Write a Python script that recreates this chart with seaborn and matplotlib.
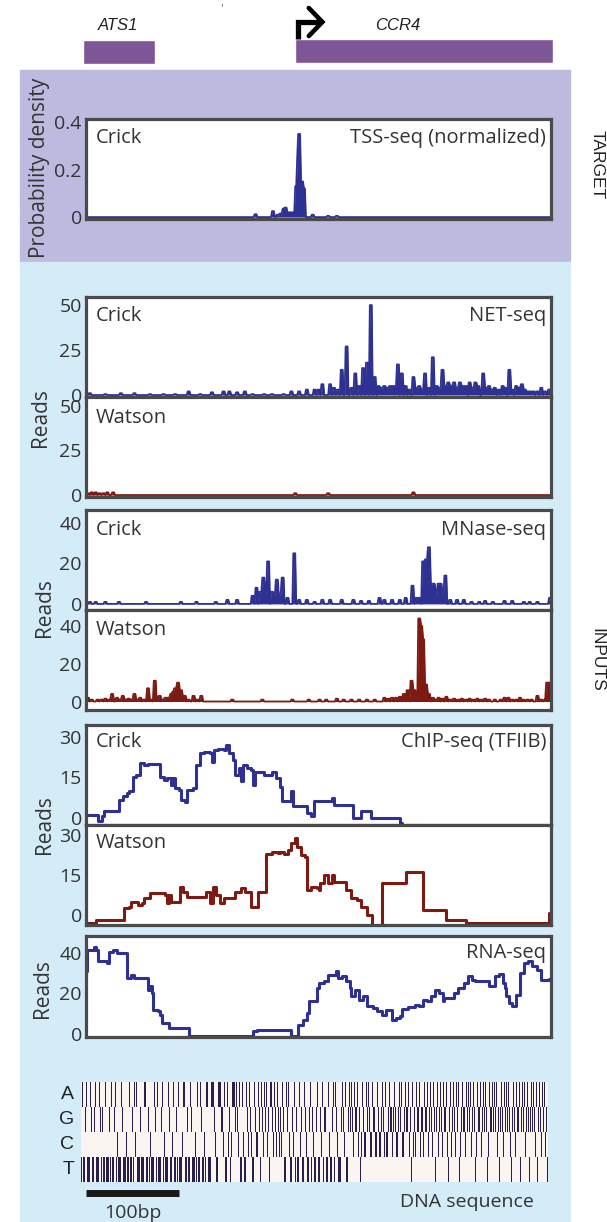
import numpy as np
import pandas as pd
import matplotlib
matplotlib.use("Agg")
import matplotlib.pyplot as plt
from matplotlib.colors import ListedColormap
from matplotlib.patches import Rectangle
import seaborn as sns

# ---------------- data (x positions in bp along a 480 bp window) ----------------
N_BP = 480

gene_names = ["ATS1", "CCR4"]
gene_start = [-3, 216]
gene_end = [71, 482]
gene_label_x = [33, 322]

tss_pos = [175, 193, 198, 201, 204, 206, 209, 212, 214, 217, 219, 220, 223, 225, 234, 250, 259]
tss_val = [0.012, 0.025, 0.01, 0.015, 0.035, 0.04, 0.02, 0.02, 0.02, 0.13, 0.25, 0.35, 0.15, 0.12, 0.01, 0.005, 0.005]

net_crick_pos = [4, 20, 36, 50, 66, 80, 92, 106, 118, 130, 142, 148, 156, 164, 172, 184, 192, 204,
                 212, 220, 228, 236, 240, 244, 252, 256, 260, 264, 269, 274, 278, 282, 286, 290,
                 294, 298, 302, 305, 308, 311, 314, 317, 320, 322, 326, 330, 334, 338, 341, 344,
                 347, 350, 354, 358, 362, 365, 368, 371, 374, 377, 380, 383, 386, 389, 392, 396,
                 399, 402, 405, 410, 413, 416, 419, 422, 426, 430, 433, 437, 440, 444, 447, 450,
                 453, 456, 459, 462, 466, 470, 474, 478]
net_crick_val = [1, 0.5, 1, 1, 0.5, 0.5, 0.5, 2, 0.5, 1.5, 2, 2, 1.5, 2, 0.5, 0.5, 0.5, 0.5,
                 2, 2, 3, 3, 3, 6, 6, 4, 3, 14, 27, 4, 12, 5, 15, 18,
                 50, 10, 5, 4, 5, 4, 5, 5, 5, 17, 12, 5, 3, 10, 4, 5,
                 3, 12, 4, 21, 5, 4, 14, 5, 7, 5, 7, 4, 7, 5, 5, 7,
                 4, 7, 5, 12, 4, 5, 3, 4, 3, 5, 4, 14, 3, 5, 4, 6,
                 3, 2, 2, 2, 2, 4, 2, 3]

net_watson_pos = [2, 6, 10, 14, 18, 22, 28, 216, 250, 338]
net_watson_val = [1, 1.5, 1.5, 1, 1, 1.5, 1.5, 1, 1, 1.5]

mnase_crick_pos = [4, 10, 20, 34, 62, 98, 114, 134, 146, 156, 172, 176, 180, 183, 186, 188, 192,
                   195, 197, 200, 203, 208, 215, 220, 228, 236, 244, 252, 264, 276, 284, 292,
                   303, 308, 316, 324, 330, 337, 341, 344, 348, 351, 354, 356, 359, 362, 364,
                   366, 369, 371, 376, 383, 390, 398, 406, 412, 420, 432, 440, 452, 458, 466, 479]
mnase_crick_val = [1, 1, 1, 1, 1, 1, 1, 1, 2, 2, 4, 8, 6, 13, 6, 21, 6,
                   5, 12, 5, 13, 3, 25, 2, 2, 1, 2, 2, 2, 2, 1.5, 1.5,
                   3, 2, 2, 2, 3, 9, 3, 3, 21, 22, 28, 10, 10, 5, 10,
                   10, 5, 14, 2, 2, 2, 1, 1, 1.5, 1, 1.5, 1.5, 1, 1, 1, 3]

mnase_watson_pos = [2, 6, 12, 16, 20, 24, 27, 32, 35, 38, 41, 44, 47, 50, 53, 56, 60, 64, 67,
                    71, 74, 76, 79, 82, 85, 88, 90, 92, 95, 98, 100, 102, 106, 111, 115, 119,
                    151, 182, 213, 230, 241, 248, 259, 266, 274, 282, 290, 298, 308, 312, 316,
                    320, 324, 328, 332, 336, 339, 341, 344, 346, 348, 351, 354, 358, 361, 364,
                    368, 372, 376, 380, 384, 388, 392, 396, 400, 404, 408, 412, 416, 422, 428,
                    432, 436, 440, 444, 448, 452, 456, 460, 466, 470, 474, 476, 478]
mnase_watson_val = [2, 1, 1, 1, 1.5, 1, 4, 2, 1, 3, 1, 1.5, 1, 4, 1, 2, 1, 7, 1,
                    11, 1, 3, 1, 2, 2, 4, 5, 7, 10, 6, 3, 3, 1, 3, 1, 3,
                    1, 1, 1, 1, 1, 1, 1.5, 1, 1, 1, 1, 1, 2, 1.5, 2,
                    2, 2.5, 4, 6, 11, 6, 3, 44, 40, 33, 9, 4, 2, 1, 2,
                    1.5, 2.5, 1, 1.5, 1, 1.5, 1, 1.5, 1, 1.5, 1, 1.5, 1, 1, 1,
                    2, 2, 1, 1, 2, 1, 1, 1, 3, 1, 1, 10, 10]

chip_crick_pos = [0, 12, 16, 19, 34, 38, 42, 44, 48, 52, 56, 60, 64, 76, 80, 84, 88, 90, 92, 96,
                  98, 102, 104, 110, 114, 118, 122, 128, 130, 132, 136, 142, 144, 148, 152, 154,
                  158, 160, 162, 166, 170, 172, 174, 184, 192, 196, 200, 202, 212, 214, 228, 232,
                  235, 254, 256, 276, 284, 294, 324, 326]
chip_crick_val = [1.2, -1.2, 0.6, 2.4, 6.7, 8, 9.2, 9.8, 15.3, 16, 20.4, 19.6, 20, 15.3, 14, 14.7,
                  12.2, 14.7, 11, 10.4, 6.7, 6, 10.4, 11, 19.6, 23.9, 24.5, 23.9, 20.8, 25.3, 25.7,
                  25.3, 26.9, 23.9, 21.4, 15.9, 18.4, 13.5, 19.6, 18.4, 17.7, 12.2, 17.1, 15.9,
                  17.1, 14.7, 11.6, 6.1, 9.8, 4.3, 1.8, 0.6, 6.1, 7.3, 4.9, 0, 2.4, 0, -2, -2]

chip_watson_pos = [0, 10, 39, 44, 46, 54, 58, 60, 66, 82, 84, 86, 88, 97, 100, 104, 124, 128, 131,
                   134, 138, 142, 154, 160, 164, 170, 178, 186, 192, 198, 200, 204, 208, 212, 216,
                   218, 222, 226, 228, 232, 238, 240, 242, 246, 250, 254, 256, 268, 274, 280, 284,
                   290, 295, 306, 330, 348, 372, 392, 478, 480]
chip_watson_val = [-3, -2, 2.5, 2.9, 5, 3.75, 4.6, 6.25, 8.4, 7.5, 4.4, 7.5, 5, 10.6, 8.75, 6.9,
                   8.75, 4.4, 10.6, 7.5, 4.4, 6.25, 8.75, 10, 8.75, 3.1, 8.75, 23, 23.75, 23.1,
                   23.75, 22.9, 24.4, 26.9, 28.75, 25.6, 22.5, 21.9, 9.4, 10.6, 10, 9.4, 11.9, 15,
                   11.9, 15, 12.5, 9.4, 6.25, 5.6, 3.1, 0, -3.75, 11.9, 16.25, 1.9, -1.9, -3, 0.6, 0.6]

rna_pos = [0, 1, 8, 10, 12, 22, 24, 28, 32, 42, 46, 50, 64, 66, 68, 69, 74, 76, 78, 86, 106, 172,
           176, 212, 219, 224, 228, 230, 238, 240, 246, 250, 258, 260, 264, 268, 272, 274, 278,
           282, 286, 290, 296, 300, 306, 310, 316, 320, 324, 326, 332, 340, 344, 348, 352, 356,
           360, 364, 368, 370, 380, 384, 390, 394, 398, 402, 416, 422, 426, 430, 432, 434, 437,
           440, 444, 448, 452, 456, 460, 466, 470, 474, 478, 480]
rna_val = [30.9, 41.6, 42.9, 41.6, 35.9, 35.1, 40.3, 41.6, 40, 27.6, 29.3, 27.6, 21.9, 23.5, 20.2,
           12, 11.2, 9.5, 5.4, 3, -0.8, 1.3, 1.8, -0.8, 4.6, 7, 10.4, 16.1, 22.7, 25.2, 26, 29.3,
           30.9, 27.6, 28.5, 26, 22.7, 18.6, 21.7, 16.9, 18.6, 13.7, 12.8, 11.2, 9.5, 12, 7, 7.9,
           8.7, 12.3, 13.3, 14.5, 13.7, 16.9, 16.1, 18.6, 21.9, 20.2, 16.1, 17.8, 20.2, 22.7, 25.2,
           28.5, 26.8, 26, 23.5, 28.5, 29.8, 25.2, 22.7, 18.6, 15.3, 14, 19.4, 30.1, 35, 35.9,
           33.4, 31.7, 26.8, 26.5, 27.1, 27.1]

dna_seq = ("TATTGATTTAGTTGATTTTAGTGTTATTTGTATTGATCTT"
           "TAGTTTCTTATTGTATCATTTGTTTAATTGTCTTTAGTAT"
           "TTGATCTTTAGTTTCATTGTATTTCAATTGTTAGTTTCTA"
           "TTAGTTCTAGATTTAAAGCTTAAAGGCATTACGTCAAAGA"
           "GCATTAGCTTAGCAGCTTAGCCAGTAGCAGACGTAAGCAG"
           "CAGACGCAGTTAGACTTGCATGTTACGTTAGCTTGATGCA"
           "TTGATTGCATGGTTACTTGATAGCTTTGAGCATTGACGAG"
           "CAGGACGTCAGCCAGAGCCAGGCCAGCCGAGCAGCCGAGG"
           "CGAGCCGAGACCGAGGACGTACGCAGGACGAGCAGGACGA"
           "GCAGTGACGAGCAGGACTGACGAGCAGGATCGAGGCAGAG"
           "ACGAGTCAGGACGAGAGTCAGGAGCAGACGTGAGCAGAGA"
           "GCTGAGCAGGATGAGACGAGTCGAGAGCATGAGCAGACGT")
bases = ["A", "G", "C", "T"]

# ---------------- style ----------------
CRICK = "#2e3192"
WATSON = "#7d1a12"
FRAME = "#4a4a4a"
TXT = "#333333"
PURPLE_BG = "#bcbbdf"
BLUE_BG = "#d4ebf8"
GENE = "#7e5597"

sns.set_theme(style="white")
plt.rcParams["font.family"] = ["Open Sans", "DejaVu Sans"]

W, H = 607, 1222
fig = plt.figure(figsize=(W / 100, H / 100), dpi=100)


def px_axes(x0, y0, x1, y1):
    return fig.add_axes([x0 / W, 1 - y1 / H, (x1 - x0) / W, (y1 - y0) / H])


def spike_frame(pos, val):
    y = np.zeros(N_BP)
    for p, v in zip(pos, val):
        lo, hi = max(p - 1, 0), min(p + 2, N_BP)
        y[lo:hi] = np.maximum(y[lo:hi], v)
    return pd.DataFrame({"bp": np.arange(N_BP), "reads": y})


def style_panel(ax, ylim, ticks, labels):
    ax.set_xlim(0, N_BP)
    ax.set_ylim(*ylim)
    ax.set_xticks([])
    ax.set_yticks(ticks)
    ax.set_yticklabels(labels)
    ax.tick_params(axis="y", length=0, pad=3, labelsize=14, labelcolor=TXT)
    ax.set_xlabel("")
    ax.set_ylabel("")
    ax.set_facecolor("white")
    for s in ax.spines.values():
        s.set_color(FRAME)
        s.set_linewidth(2.3)
        s.set_visible(True)


def spike_panel(ax, pos, val, color):
    df = spike_frame(pos, val)
    sns.lineplot(data=df, x="bp", y="reads", ax=ax, color=color, lw=1.3, estimator=None)
    ax.fill_between(df["bp"], df["reads"], color=color, lw=0)


def step_panel(ax, pos, val, color):
    df = pd.DataFrame({"bp": pos, "reads": val})
    sns.lineplot(data=df, x="bp", y="reads", ax=ax, color=color, lw=2.2,
                 estimator=None, drawstyle="steps-post")


def corner_text(ax, left, right=None, y=0.81):
    ax.text(0.02, y, left, transform=ax.transAxes, ha="left", va="center",
            fontsize=14.5, color=TXT)
    if right:
        ax.text(0.99, y, right, transform=ax.transAxes, ha="right", va="center",
                fontsize=14.5, color=TXT)


# backgrounds
fig.patches.append(Rectangle((20 / W, 1 - 262 / H), 550 / W, 192 / H,
                             transform=fig.transFigure, color=PURPLE_BG, zorder=-2))
fig.patches.append(Rectangle((20 / W, 0), 550 / W, 1 - 262 / H,
                             transform=fig.transFigure, color=BLUE_BG, zorder=-2))

# ---------------- gene annotation ----------------
ax_g = px_axes(86, 0, 551, 70)
ax_g.set_xlim(0, N_BP)
ax_g.set_ylim(70, 0)
ax_g.axis("off")
gene_y = [52, 51]
for name, s, e, lx, gy in zip(gene_names, gene_start, gene_end, gene_label_x, gene_y):
    ax_g.barh(gy, e - s, left=s, height=24, color=GENE, clip_on=False)
    ax_g.text(lx, 25, name, ha="center", va="center", fontsize=12, style="italic",
              family="Liberation Sans", color="#222222")
ax_g.text(140, 9, "'", ha="center", va="center", fontsize=8, color="#444444")
tss_x = gene_start[1] + 3
ax_g.plot([tss_x, tss_x, tss_x + 22], [39, 22, 22], color="black", lw=3.8,
          solid_joinstyle="miter", solid_capstyle="butt", clip_on=False)
ax_g.plot([tss_x + 11, tss_x + 25, tss_x + 11], [8, 22, 36], color="black",
          lw=3.3, solid_joinstyle="miter", clip_on=False)

# ---------------- TSS-seq ----------------
ax = px_axes(86, 119, 551, 219)
spike_panel(ax, tss_pos, tss_val, CRICK)
style_panel(ax, (-0.008, 0.413), [0, 0.2, 0.4], ["0", "0.2", "0.4"])
corner_text(ax, "Crick", "TSS-seq (normalized)")
fig.text(40 / W, 1 - 168 / H, "Probability density", rotation=90, ha="center",
         va="center", fontsize=15, color=TXT)

# ---------------- NET-seq ----------------
ax = px_axes(86, 297, 551, 397)
spike_panel(ax, net_crick_pos, net_crick_val, CRICK)
style_panel(ax, (-1.1, 54.5), [0, 25, 50], ["0", "25", "50"])
corner_text(ax, "Crick", "NET-seq")
ax = px_axes(86, 397, 551, 497)
spike_panel(ax, net_watson_pos, net_watson_val, WATSON)
style_panel(ax, (-1.1, 55), [0, 25, 50], ["0", "25", "50"])
corner_text(ax, "Watson", y=0.79)
fig.text(40 / W, 1 - 418 / H, "Reads", rotation=90, ha="center", va="center",
         fontsize=15, color=TXT)

# ---------------- MNase-seq ----------------
ax = px_axes(86, 510, 551, 610)
spike_panel(ax, mnase_crick_pos, mnase_crick_val, CRICK)
style_panel(ax, (-3, 46.4), [0, 20, 40], ["0", "20", "40"])
corner_text(ax, "Crick", "MNase-seq", y=0.8)
ax = px_axes(86, 610, 551, 710)
spike_panel(ax, mnase_watson_pos, mnase_watson_val, WATSON)
style_panel(ax, (-4.5, 48.5), [0, 20, 40], ["0", "20", "40"])
corner_text(ax, "Watson", y=0.8)
fig.text(45 / W, 1 - 608 / H, "Reads", rotation=90, ha="center", va="center",
         fontsize=15, color=TXT)

# ---------------- ChIP-seq ----------------
ax = px_axes(86, 725, 551, 825)
step_panel(ax, chip_crick_pos, chip_crick_val, CRICK)
style_panel(ax, (-2.6, 34.4), [0, 15, 30], ["0", "15", "30"])
corner_text(ax, "Crick", "ChIP-seq (TFIIB)", y=0.83)
ax = px_axes(86, 825, 551, 925)
step_panel(ax, chip_watson_pos, chip_watson_val, WATSON)
style_panel(ax, (-3.75, 33.75), [0, 15, 30], ["0", "15", "30"])
corner_text(ax, "Watson", y=0.82)
fig.text(45 / W, 1 - 825 / H, "Reads", rotation=90, ha="center", va="center",
         fontsize=15, color=TXT)

# ---------------- RNA-seq ----------------
ax = px_axes(86, 936, 551, 1037)
step_panel(ax, rna_pos, rna_val, CRICK)
style_panel(ax, (-1.5, 48.4), [0, 20, 40], ["0", "20", "40"])
ax.text(0.99, 0.83, "RNA-seq", transform=ax.transAxes, ha="right", va="center",
        fontsize=14.5, color=TXT)
fig.text(43 / W, 1 - 989 / H, "Reads", rotation=90, ha="center", va="center",
         fontsize=15, color=TXT)

# ---------------- DNA sequence ----------------
onehot = np.array([[1 if b == base else 0 for b in dna_seq] for base in bases])
ax_d = px_axes(81, 1082, 548, 1182)
sns.heatmap(onehot, ax=ax_d, cmap=ListedColormap(["#faf5f0", "#2a1f4a"]), cbar=False,
            xticklabels=False, yticklabels=bases)
ax_d.tick_params(axis="y", length=0, pad=5, rotation=0)
for t in ax_d.get_yticklabels():
    t.set_fontfamily("Liberation Sans")
    t.set_fontsize(14)
    t.set_color("#222222")
ax_d.plot([5, 101], [4.45, 4.45], color="#1a1a1a", lw=5, solid_capstyle="butt",
          clip_on=False)
ax_d.text(53, 5.25, "100bp", ha="center", va="center", fontsize=14, color=TXT)
ax_d.text(397, 4.8, "DNA sequence", ha="center", va="center", fontsize=14, color=TXT)

# side labels
fig.text(597 / W, 1 - 165 / H, "TARGET", rotation=270, ha="center", va="center",
         fontsize=12.5, family="Liberation Sans", color="#222222")
fig.text(597 / W, 1 - 660 / H, "INPUTS", rotation=270, ha="center", va="center",
         fontsize=12.5, family="Liberation Sans", color="#222222")

fig.savefig("out.png", dpi=100)
